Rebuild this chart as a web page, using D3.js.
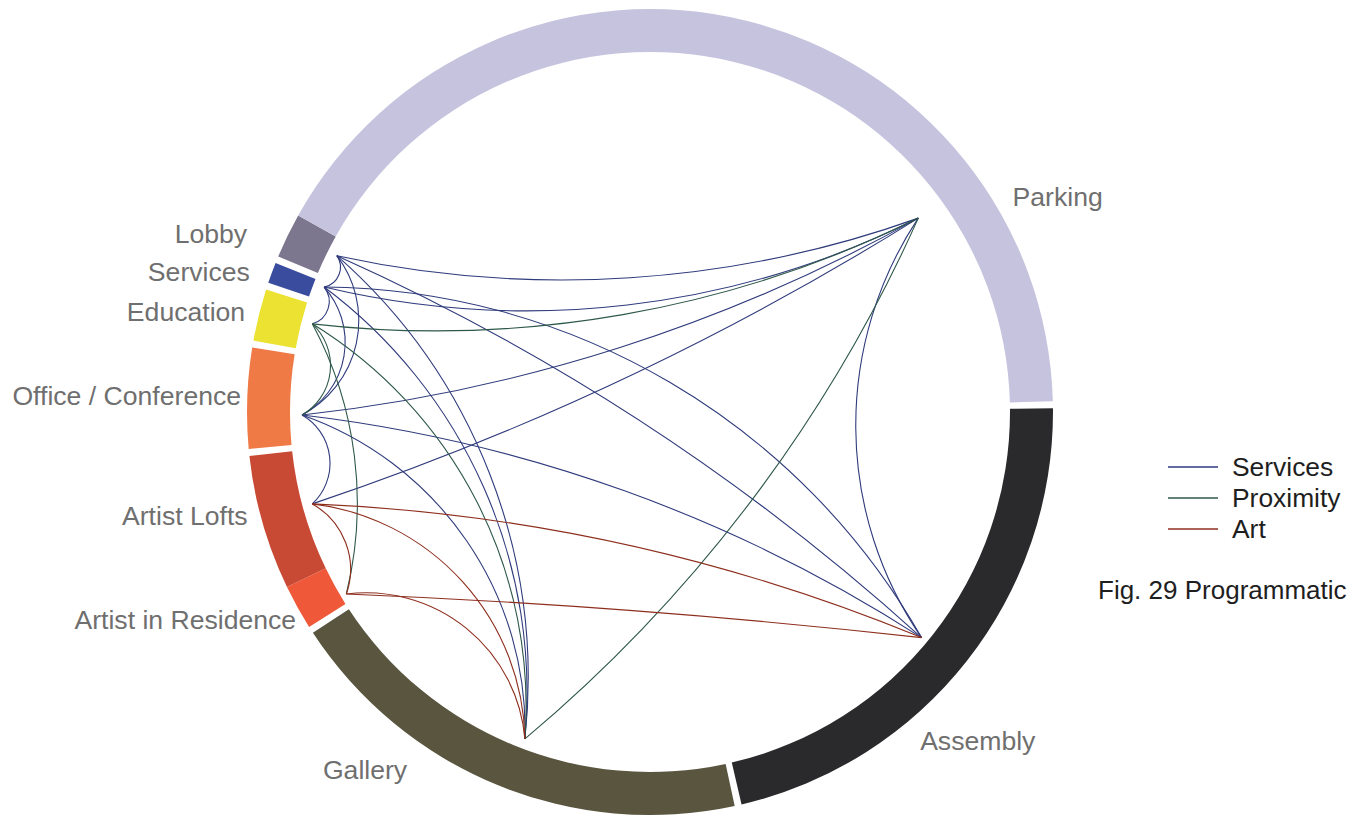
<!DOCTYPE html>
<meta charset="utf-8">
<style>
body { margin: 0; background: #fff; }
svg { display: block; }
.label { font-family: "Liberation Sans", Arial, sans-serif; font-size: 26.6px; fill: #6f6f6f; }
.legend text { font-family: "Liberation Sans", Arial, sans-serif; font-size: 26.4px; fill: #1e1e1e; }
.link { fill: none; stroke-width: 1.1px; }
</style>
<svg width="1348" height="817"></svg>
<script src="https://d3js.org/d3.v7.min.js"></script>
<script>
// program spaces, clockwise from the Lobby
var programs = ["Lobby", "Parking", "Assembly", "Gallery", "Artist in Residence",
                "Artist Lofts", "Office / Conference", "Education", "Services"];
var areas = [6.5, 149.5, 77.5, 69, 6.5, 19.5, 14.5, 7.5, 3];
var clusters = [0, 0, 1, 2, 3, 3, 4, 5, 6]; // same cluster = no gap between
var programColors = ["#7c778f", "#c6c3de", "#2a2a2c", "#59553f", "#f0583a",
                     "#c94a34", "#f07a46", "#ebe232", "#3a4c9e"];

var relTypes = ["Services", "Proximity", "Art"];
var relColors = ["#2f3b7c", "#2e5849", "#8e2f1e"];

// [from, to, relationship]
var relations = [
  ["Lobby", "Parking", "Services"],
  ["Lobby", "Assembly", "Services"],
  ["Lobby", "Gallery", "Services"],
  ["Lobby", "Services", "Services"],
  ["Lobby", "Office / Conference", "Services"],
  ["Services", "Parking", "Services"],
  ["Services", "Assembly", "Services"],
  ["Services", "Gallery", "Services"],
  ["Services", "Education", "Services"],
  ["Services", "Office / Conference", "Services"],
  ["Office / Conference", "Parking", "Services"],
  ["Office / Conference", "Assembly", "Services"],
  ["Office / Conference", "Gallery", "Services"],
  ["Office / Conference", "Artist Lofts", "Services"],
  ["Artist Lofts", "Parking", "Services"],
  ["Parking", "Assembly", "Services"],
  ["Gallery", "Parking", "Proximity"],
  ["Education", "Parking", "Proximity"],
  ["Education", "Gallery", "Proximity"],
  ["Education", "Office / Conference", "Proximity"],
  ["Education", "Artist in Residence", "Proximity"],
  ["Artist Lofts", "Assembly", "Art"],
  ["Artist Lofts", "Gallery", "Art"],
  ["Artist in Residence", "Assembly", "Art"],
  ["Artist in Residence", "Gallery", "Art"],
  ["Artist Lofts", "Artist in Residence", "Art"]
];

// layout
var cx = 650, cy = 412, outerR = 403, innerR = 360;
var gapDeg = 1.0, startDeg = -67.3;
var bendK = 0.65; // default: share of a right-angle bend a link takes at its ends
// hand-drawn curves: end angle (deg) of each link against its chord, null = default,
// negative = bowed away from the centre
var bendDeg = [16, 9, null, null, null, 20, 30, null, null, null,
               null, null, null, null, null, 34, -13, null, null, null,
               21, 10, null, 2, null, 40];
var anchorFrac = [0.59, 0.77, 0.52, 0.48, 0.2, 0.54, 0.33, 0.59, 0.76];
var anchorR    = [350, 331, 353, 350, 354, 350, 348, 349, 349];
// label anchor: [angle deg, radius, text-anchor]
var labelPos = [[-67.2, 437, "end"], [60.4, 417, "start"], [141.4, 433, "start"],
                [213.5, 440, "end"], [-121.5, 415, "end"], [-105.7, 418, "end"],
                [-89.0, 409, "end"], [-77.3, 415, "end"], [-71.9, 421, "end"]];

var svg = d3.select("svg");
var g = svg.append("g").attr("transform", "translate(" + cx + "," + cy + ")");

var rad = Math.PI / 180;
var nGaps = d3.sum(clusters, function(c, i) { return i > 0 && c !== clusters[i - 1] ? 1 : 0; }) +
            (clusters[0] !== clusters[clusters.length - 1] ? 1 : 0);
var degPerArea = (360 - nGaps * gapDeg) / d3.sum(areas);

var segs = [], a = startDeg;
programs.forEach(function(name, i) {
  if (i > 0 && clusters[i] !== clusters[i - 1]) a += gapDeg;
  var s = a, e = a + areas[i] * degPerArea;
  a = e;
  var t = (s + anchorFrac[i] * (e - s)) * rad;
  segs.push({name: name, start: s * rad, end: e * rad, color: programColors[i],
             x: anchorR[i] * Math.sin(t), y: -anchorR[i] * Math.cos(t)});
});
var byName = {};
segs.forEach(function(d) { byName[d.name] = d; });

var arc = d3.arc().innerRadius(innerR).outerRadius(outerR)
    .startAngle(function(d) { return d.start; })
    .endAngle(function(d) { return d.end; });

g.selectAll(".seg").data(segs).enter().append("path")
    .attr("class", "seg")
    .attr("d", arc)
    .attr("fill", function(d) { return d.color; });

var linkColor = d3.scaleOrdinal().domain(relTypes).range(relColors);

// circular arc from p to q, bowed toward the centre (away when phi < 0)
function bow(p, q, phiDeg) {
  var dx = q.x - p.x, dy = q.y - p.y;
  var h = Math.sqrt(dx * dx + dy * dy) / 2;
  var phi;
  if (phiDeg == null) {
    var cosSep = (p.x * q.x + p.y * q.y) / (Math.hypot(p.x, p.y) * Math.hypot(q.x, q.y));
    var half = Math.acos(Math.max(-1, Math.min(1, cosSep))) / 2;
    phi = bendK * (Math.PI / 2 - half);
  } else {
    phi = phiDeg * rad;
  }
  if (Math.abs(phi) < 1e-3) return "M" + p.x + "," + p.y + "L" + q.x + "," + q.y;
  var R = h / Math.sin(Math.abs(phi));
  var mx = (p.x + q.x) / 2, my = (p.y + q.y) / 2;
  var inward = (dx * -my - dy * -mx) < 0;
  var sweep = (inward === (phi > 0)) ? 1 : 0;
  return "M" + p.x + "," + p.y + "A" + R + "," + R + " 0 0," + sweep + " " + q.x + "," + q.y;
}

g.selectAll(".link").data(relations).enter().append("path")
    .attr("class", "link")
    .attr("d", function(d, i) { return bow(byName[d[0]], byName[d[1]], bendDeg[i]); })
    .attr("stroke", function(d) { return linkColor(d[2]); });

g.selectAll(".label").data(segs).enter().append("text")
    .attr("class", "label")
    .attr("x", function(d, i) { return labelPos[i][1] * Math.sin(labelPos[i][0] * rad); })
    .attr("y", function(d, i) { return -labelPos[i][1] * Math.cos(labelPos[i][0] * rad); })
    .attr("text-anchor", function(d, i) { return labelPos[i][2]; })
    .text(function(d) { return d.name; });

// legend
var legend = svg.append("g").attr("class", "legend").attr("transform", "translate(1168,467)");
var row = legend.selectAll("g").data(relTypes).enter().append("g")
    .attr("transform", function(d, i) { return "translate(0," + i * 31 + ")"; });
row.append("line").attr("x1", 0).attr("x2", 50).attr("y1", 0).attr("y2", 0)
    .attr("stroke", function(d) { return linkColor(d); }).attr("stroke-width", 1.6);
row.append("text").attr("x", 64).attr("y", 9).text(function(d) { return d; });

svg.append("text")
    .attr("x", 1098).attr("y", 599)
    .style("font-family", "Liberation Sans, Arial, sans-serif")
    .style("font-size", "26px").style("fill", "#1e1e1e")
    .text("Fig. 29 Programmatic");
</script>
